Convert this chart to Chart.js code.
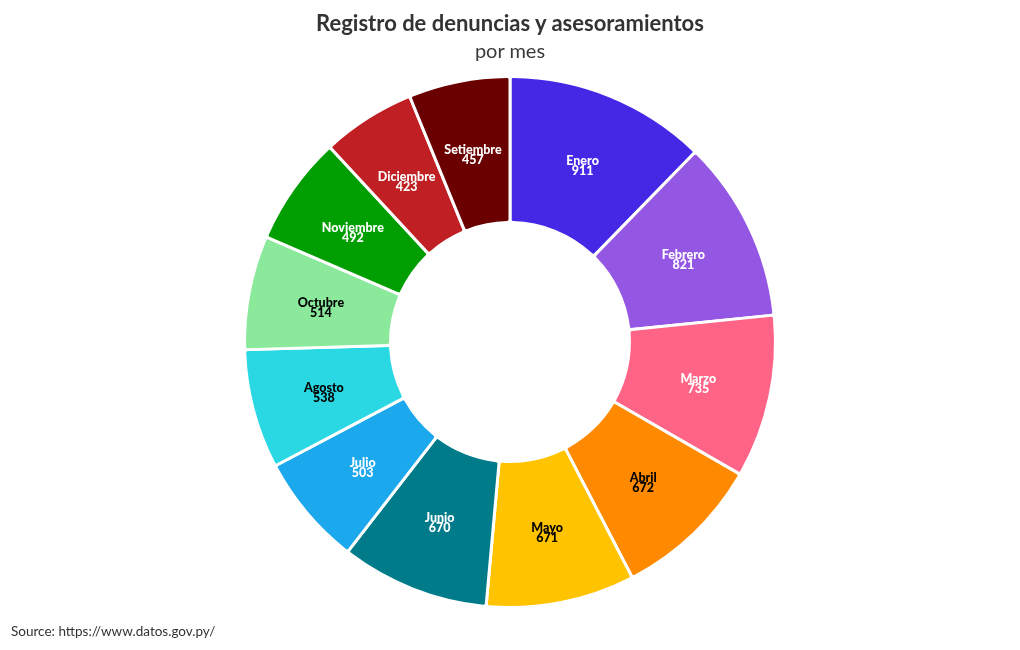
<!doctype html>
<html lang="es">
<head>
  <meta charset="utf-8" />
  <title>Registro de denuncias y asesoramientos</title>
  <style>
    *{box-sizing:border-box}
    body{margin:0; background:#fff; font-family:Lato,"Noto Sans",sans-serif; color:#333}
    .wrap{position:relative; width:1020px; height:650px}
    .title{position:absolute; top:9px; left:0; width:100%; text-align:center; font-weight:700; font-size:22px; color:#333}
    .sub{position:absolute; top:38px; left:0; width:100%; text-align:center; font-size:20px; color:#3a3a3a}
    .src{position:absolute; left:11px; top:623px; font-size:13.5px; color:#333}
    canvas{position:absolute; left:0; top:0}
  </style>
  <script src="https://cdn.jsdelivr.net/npm/chart.js@4.4.1/dist/chart.umd.min.js"></script>
</head>
<body>
<div class="wrap">
  <canvas id="c" width="1020" height="650"></canvas>
  <div class="title">Registro de denuncias y asesoramientos</div>
  <div class="sub">por mes</div>
  <div class="src">Source: https://www.datos.gov.py/</div>
</div>
<script>
const months = ["Enero","Febrero","Marzo","Abril","Mayo","Junio","Julio","Agosto","Octubre","Noviembre","Diciembre","Setiembre"];
const counts = [911, 821, 735, 672, 671, 670, 503, 538, 514, 492, 423, 457];
const colors = ["#4428e6","#9457e3","#ff6385","#ff8a00","#ffc300","#007b8a","#1ca8ec","#2ad8e4","#8ae99a","#009e00","#c01f23","#6b0000"];
const labelColors = ["#fff","#fff","#fff","#000","#000","#fff","#fff","#000","#000","#fff","#fff","#fff"];

// name + value inside each slice
const sliceLabels = {
  id: "sliceLabels",
  afterDatasetsDraw(chart){
    const ctx = chart.ctx;
    const meta = chart.getDatasetMeta(0);
    ctx.save();
    ctx.textAlign = "center";
    ctx.textBaseline = "middle";
    ctx.font = "900 12.5px Lato, 'Noto Sans', sans-serif";
    meta.data.forEach((arc, i) => {
      const p = arc.tooltipPosition();
      ctx.fillStyle = labelColors[i];
      ctx.fillText(months[i], p.x, p.y - 3);
      ctx.fillText(String(counts[i]), p.x, p.y + 7);
    });
    ctx.restore();
  }
};

new Chart(document.getElementById("c"), {
  type: "doughnut",
  data: { labels: months, datasets: [{ data: counts, backgroundColor: colors, borderColor: "#fff", borderWidth: 3, borderRadius: 3 }] },
  options: {
    responsive: false, animation: false, cutout: "45%",
    layout: { padding: { top: 75, bottom: 41 } },
    plugins: { legend: { display: false }, tooltip: { enabled: false } }
  },
  plugins: [sliceLabels]
});
</script>
</body>
</html>
